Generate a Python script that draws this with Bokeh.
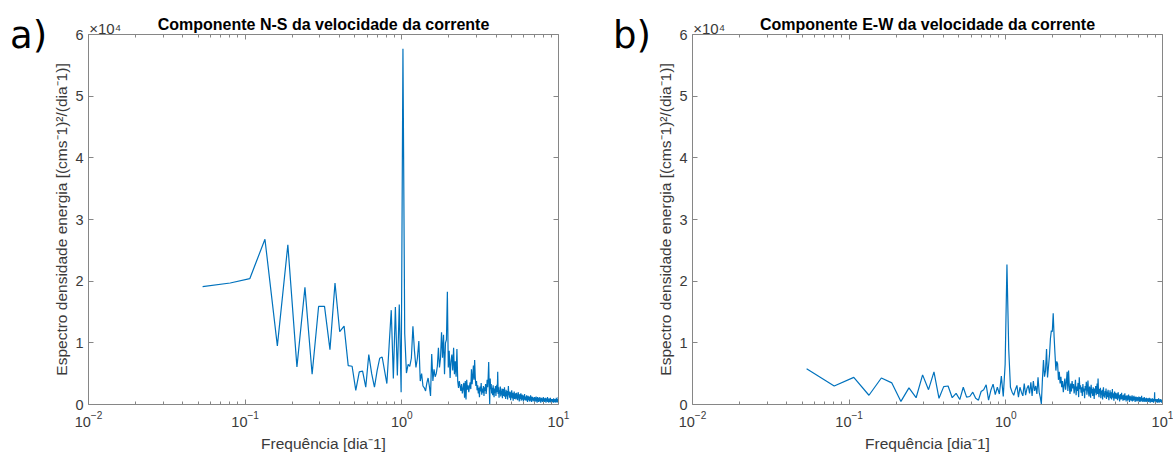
import numpy as np
from bokeh.plotting import figure
from bokeh.layouts import row
from bokeh.models import Range1d, FixedTicker, LogAxis, LinearAxis, Div
from bokeh.embed import file_html
from bokeh.resources import INLINE

# ---------------- data (values in units of 1e4 (cm s^-1)^2 / (dia^-1)) ----------------
DF = 0.02675          # frequency resolution [dia^-1]
K_FIRST = 2           # first harmonic shown

ns_low = [1.91, 1.97, 2.04, 2.68, 0.95, 2.59, 0.61, 1.90, 0.49, 1.59,
          1.59, 0.89, 1.97, 1.18, 1.27, 0.63, 0.62, 0.23, 0.53, 0.54,
          0.28, 0.81, 0.50, 0.28, 0.55, 0.75, 0.77, 0.55, 0.34, 0.95,
          1.53, 0.42, 1.58, 0.47, 1.62, 0.20, 5.77, 1.15, 0.51, 0.65,
          0.62, 0.75, 1.27, 0.87, 0.60, 0.75, 1.03, 0.38, 0.50, 0.30,
          0.27, 0.22, 0.35, 0.43, 0.30, 0.14, 0.82, 0.38, 0.57, 0.45,
          0.50, 0.62, 0.92, 0.60, 0.75, 1.17, 0.76, 1.13, 0.49, 1.00,
          1.05, 1.83, 0.60, 0.87, 0.43, 0.70, 0.81, 0.55, 0.92, 0.49,
          0.70, 0.45, 0.90, 0.38, 0.27]
ns_high = [0.38, 0.30, 0.22, 0.33, 0.18, 0.26, 0.35, 0.11, 0.38, 0.08, 0.40, 0.24, 0.31, 0.20,
           0.29, 0.36, 0.25, 0.57, 0.33, 0.45, 0.63, 0.40, 0.72, 0.44, 0.30, 0.38,
           0.23, 0.31, 0.18, 0.27, 0.12, 0.29, 0.21, 0.35, 0.16, 0.26, 0.19, 0.30, 0.14,
           0.28, 0.22, 0.33, 0.17, 0.25, 0.40, 0.28, 0.45, 0.69, 0.30, 0.01, 0.42, 0.25, 0.33, 0.18,
           0.27, 0.15, 0.31, 0.22, 0.12, 0.26, 0.19, 0.30, 0.14, 0.24, 0.32, 0.20, 0.53, 0.17, 0.28, 0.11, 0.23, 0.18, 0.29, 0.13,
           0.22, 0.16, 0.26, 0.10, 0.21, 0.25, 0.14, 0.19, 0.28, 0.12, 0.20, 0.09, 0.24, 0.17, 0.13, 0.22, 0.08, 0.19, 0.30, 0.15,
           0.18, 0.11, 0.21, 0.14, 0.07, 0.20, 0.16, 0.23, 0.10, 0.15, 0.19, 0.06, 0.17, 0.13, 0.21, 0.09, 0.16, 0.12, 0.18, 0.08,
           0.14, 0.19, 0.10, 0.16, 0.07, 0.13, 0.20, 0.11, 0.15, 0.05, 0.12, 0.17, 0.09, 0.14, 0.18,
           0.06, 0.13, 0.10, 0.16, 0.08, 0.12, 0.15, 0.05, 0.11, 0.14, 0.09, 0.17, 0.07, 0.12, 0.10,
           0.13, 0.06, 0.11, 0.15, 0.08, 0.12, 0.04, 0.10, 0.14, 0.07, 0.11, 0.09, 0.13, 0.05, 0.10,
           0.12, 0.06, 0.15, 0.08, 0.11, 0.04, 0.09, 0.13, 0.07, 0.10, 0.12, 0.05, 0.09, 0.11, 0.06,
           0.10, 0.08, 0.12, 0.04, 0.09, 0.11, 0.06, 0.10, 0.13, 0.05, 0.08, 0.10, 0.03, 0.09, 0.12, 0.06, 0.08, 0.11, 0.04, 0.09,
           0.07, 0.10, 0.05, 0.12, 0.08, 0.06, 0.09, 0.03, 0.10, 0.07, 0.11, 0.05, 0.08, 0.06, 0.10, 0.04, 0.09, 0.07, 0.12, 0.05,
           0.08, 0.06, 0.10, 0.04, 0.09, 0.07, 0.05, 0.11, 0.06, 0.08, 0.03, 0.09, 0.07, 0.10, 0.05, 0.08, 0.06, 0.12, 0.04, 0.07,
           0.09, 0.05, 0.08, 0.03, 0.10, 0.06, 0.07, 0.09, 0.04, 0.08, 0.06, 0.11, 0.05, 0.07, 0.03, 0.09, 0.06, 0.08, 0.04, 0.07,
           0.05, 0.09, 0.06, 0.04, 0.08, 0.07, 0.03, 0.10, 0.05, 0.06, 0.08, 0.04, 0.07, 0.05, 0.09, 0.03, 0.06,
           0.08, 0.04, 0.07, 0.05, 0.11, 0.04, 0.06, 0.08, 0.03, 0.07, 0.05, 0.09, 0.04, 0.06, 0.12, 0.05, 0.07]

ew_low = [0.58, 0.30, 0.44, 0.15, 0.43, 0.35, 0.05, 0.27, 0.11, 0.48,
          0.24, 0.53, 0.10, 0.29, 0.30, 0.11, 0.18, 0.08, 0.28, 0.12,
          0.13, 0.20, 0.10, 0.07, 0.21, 0.24, 0.32, 0.07, 0.23, 0.33,
          0.16, 0.28, 0.17, 0.46, 0.13, 0.65, 2.27, 0.90, 0.28, 0.20,
          0.15, 0.24, 0.31, 0.12, 0.28, 0.20, 0.14, 0.34, 0.15, 0.26,
          0.31, 0.18, 0.36, 0.14, 0.38, 0.22, 0.30, 0.17, 0.44, 0.20,
          0.12, 0.01, 0.40, 0.72, 0.45, 0.55, 0.90, 0.44, 0.62, 0.80,
          1.07, 1.20, 1.18, 1.48, 1.10, 0.82, 0.55, 0.70, 0.66, 0.40,
          0.53, 0.34, 0.45, 0.28, 0.38, 0.20, 0.31, 0.42, 0.24, 0.36,
          0.53, 0.22, 0.55, 0.30, 0.17, 0.34, 0.21, 0.38, 0.26]
ew_high = [0.33, 0.18, 0.27, 0.40, 0.15, 0.29, 0.22, 0.35, 0.12, 0.44, 0.25, 0.31, 0.19, 0.28, 0.14, 0.33, 0.21, 0.26, 0.10, 0.30,
           0.23, 0.37, 0.16, 0.27, 0.39, 0.20, 0.13, 0.29, 0.24, 0.11, 0.32, 0.18, 0.25, 0.14, 0.28, 0.21, 0.09, 0.26, 0.19, 0.30,
           0.15, 0.23, 0.34, 0.17, 0.42, 0.20, 0.12, 0.25, 0.18, 0.27, 0.10, 0.22, 0.16, 0.24, 0.08, 0.21, 0.28, 0.13, 0.19, 0.11,
           0.22, 0.15, 0.26, 0.09, 0.18, 0.21, 0.12, 0.24, 0.16, 0.07, 0.19, 0.14, 0.23, 0.10, 0.17,
           0.20, 0.08, 0.15, 0.25, 0.11, 0.18, 0.13, 0.06, 0.16, 0.21, 0.10, 0.14, 0.19, 0.09, 0.15,
           0.12, 0.18, 0.07, 0.14, 0.20, 0.10, 0.16, 0.13, 0.05, 0.15, 0.11, 0.17, 0.08, 0.13, 0.19,
           0.09, 0.12, 0.15, 0.06, 0.14, 0.10, 0.16, 0.07, 0.12, 0.18, 0.08, 0.11, 0.14, 0.05, 0.13,
           0.09, 0.15, 0.11, 0.06, 0.13, 0.10, 0.16, 0.08, 0.12, 0.04, 0.11, 0.14, 0.07, 0.10, 0.13, 0.06, 0.12, 0.09, 0.15, 0.05,
           0.10, 0.08, 0.13, 0.06, 0.11, 0.14, 0.07, 0.09, 0.12, 0.04, 0.10, 0.08, 0.13, 0.06, 0.11, 0.09, 0.05, 0.12, 0.08, 0.10,
           0.06, 0.11, 0.09, 0.13, 0.05, 0.08, 0.10, 0.04, 0.12, 0.07, 0.09, 0.11, 0.05, 0.08, 0.14, 0.06, 0.10, 0.07, 0.09, 0.04,
           0.11, 0.08, 0.06, 0.10, 0.05, 0.12, 0.07, 0.09, 0.04, 0.08, 0.10, 0.06, 0.09, 0.05, 0.11, 0.07, 0.04, 0.08, 0.10, 0.06,
           0.09, 0.05, 0.07, 0.10, 0.04, 0.08, 0.06, 0.11, 0.05, 0.07, 0.09, 0.03, 0.08, 0.06, 0.10, 0.05, 0.07, 0.09, 0.04, 0.06,
           0.08, 0.05, 0.10, 0.04, 0.07, 0.06, 0.09, 0.03, 0.08, 0.05, 0.07, 0.10, 0.20, 0.06, 0.08, 0.05, 0.07, 0.03, 0.09, 0.06,
           0.05, 0.08, 0.04, 0.07, 0.06, 0.09, 0.03, 0.07, 0.05, 0.08, 0.04, 0.06, 0.10, 0.05, 0.07, 0.03, 0.08,
           0.06, 0.04, 0.07, 0.05, 0.09, 0.04, 0.06, 0.06, 0.05, 0.07, 0.03, 0.08, 0.05, 0.06, 0.04, 0.07, 0.05]

ns_values = ns_low + ns_high
ew_values = ew_low + ew_high

x_major_ticks = [0.01, 0.1, 1, 10]
x_minor_ticks = [m * 10.0 ** e for e in (-2, -1, 0) for m in range(2, 10)]
y_ticks = [0, 1, 2, 3, 4, 5, 6]

titles = ["Componente N-S da velocidade da corrente",
          "Componente E-W da velocidade da corrente"]
tags = ["a)", "b)"]
x_label = "Frequência [dia⁻1]"
y_label = "Espectro densidade energia [(cms⁻1)²/(dia⁻1)]"
scale_label = "\u2007\u2007\u2007\u2007×10⁴"   # figure spaces shift it right of the corner

# ---------------- styling ----------------
FW, FH = 470, 370
TOP, BOTTOM = 34, 53
LINE_COLOR = "#0072BD"
AX_COLOR = "#868686"
TXT_COLOR = "#3a3a3a"
FONT = "Liberation Sans"


def style_axis(ax):
    ax.axis_line_color = AX_COLOR
    ax.major_tick_line_color = AX_COLOR
    ax.minor_tick_line_color = AX_COLOR
    ax.major_tick_in = 5
    ax.major_tick_out = 0
    ax.minor_tick_in = 3
    ax.minor_tick_out = 0
    ax.major_label_text_color = TXT_COLOR
    ax.major_label_text_font = FONT
    ax.major_label_text_font_size = "14.5px"
    ax.axis_label_text_color = TXT_COLOR
    ax.axis_label_text_font = FONT
    ax.axis_label_text_font_size = "15.5px"
    ax.axis_label_text_font_style = "normal"


def make_panel(values, title, left, right):
    freq = DF * np.arange(K_FIRST, K_FIRST + len(values))
    p = figure(x_axis_type="log", x_range=Range1d(0.01, 10), y_range=Range1d(0, 6),
               frame_width=FW, frame_height=FH,
               min_border_left=left, min_border_right=right,
               min_border_top=TOP, min_border_bottom=BOTTOM,
               output_backend="svg", toolbar_location=None,
               background_fill_color="white", border_fill_color="white",
               outline_line_color=None, margin=0)
    p.grid.visible = False

    xa = p.xaxis[0]
    xa.ticker = FixedTicker(ticks=x_major_ticks, minor_ticks=x_minor_ticks)
    style_axis(xa)
    xa.axis_label = x_label
    xa.major_label_standoff = 6
    xa.axis_label_standoff = 5

    ya = p.yaxis[0]
    ya.ticker = FixedTicker(ticks=y_ticks)
    style_axis(ya)
    ya.minor_tick_line_color = None
    ya.axis_label = y_label
    ya.major_label_standoff = 5
    ya.axis_label_standoff = 2

    # top box axis: carries the x10^4 multiplier and the panel title
    top = LogAxis(ticker=FixedTicker(ticks=x_major_ticks, minor_ticks=x_minor_ticks),
                  major_label_overrides={0.01: scale_label, 0.1: "", 1: "", 10: ""})
    style_axis(top)
    top.major_label_text_font_size = "15px"
    top.major_label_standoff = -2
    top.axis_label = title
    top.axis_label_text_font_size = "16px"
    top.axis_label_text_font_style = "bold"
    top.axis_label_text_color = "#000000"
    top.axis_label_standoff = -16
    p.add_layout(top, "above")

    rgt = LinearAxis(ticker=FixedTicker(ticks=y_ticks),
                     major_label_overrides={t: "" for t in y_ticks})
    style_axis(rgt)
    rgt.minor_tick_line_color = None
    rgt.major_label_standoff = 0
    p.add_layout(rgt, "right")

    p.line(freq, values, line_color=LINE_COLOR, line_width=1.2)
    return p


def tag_div(text, width, pad_left):
    html = ('<div style="font-family:\'DejaVu Sans\';font-size:37px;line-height:37px;'
            f'margin:17px 0 0 {pad_left}px;color:#000;">{text}</div>')
    return Div(text=html, width=width, height=70, margin=0)


pa = make_panel(ns_values, titles[0], 37, 25)
pb = make_panel(ew_values, titles[1], 39, 12)

layout = row(tag_div(tags[0], 50, 10), pa, tag_div(tags[1], 70, 30), pb, spacing=0, margin=0)
open("out.html", "w").write(file_html(layout, INLINE))
